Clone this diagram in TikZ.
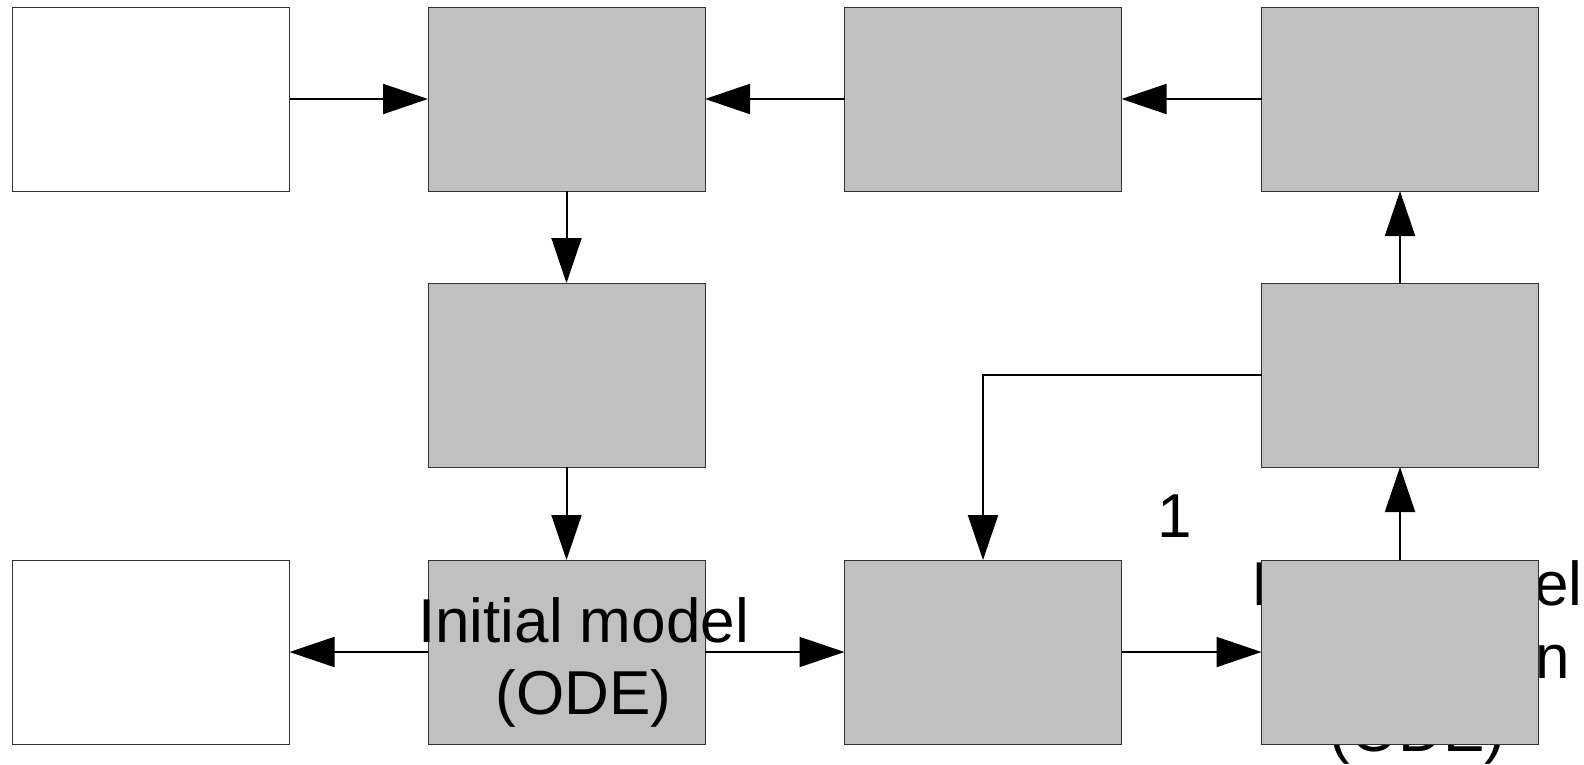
\documentclass[tikz,border=0pt]{standalone}
\usepackage{fontspec}
\setmainfont{Liberation Sans}
\usetikzlibrary{arrows.meta}
\definecolor{boxgray}{RGB}{192,192,192}
\tikzset{
  blk/.style={draw=black!80, line width=1pt, minimum width=277pt, minimum height=184pt, inner sep=0pt, outer sep=0pt},
  gblk/.style={blk, fill=boxgray},
  wblk/.style={blk, fill=white},
  flow/.style={line width=2pt, -{Triangle[length=45pt,width=30pt]}},
  lbl/.style={font=\fontsize{62}{72}\selectfont, inner sep=0pt, outer sep=0pt, anchor=base}
}
\begin{document}
\begin{tikzpicture}[x=1pt,y=-1pt]
\useasboundingbox (0,0) rectangle (1584,764);
% text hidden behind box J
\node[lbl] (tJa) at (1417,605) {Initial model};
\node[lbl, anchor=base west] (tJb) at (1535,678) {n};
\node[lbl] (tJc) at (1417.5,751) {(ODE)};
% boxes
\node[wblk] (A) at (151,99) {};
\node[gblk] (B) at (566.5,99) {};
\node[gblk] (C) at (983,99) {};
\node[gblk] (D) at (1400,99) {};
\node[gblk] (E) at (566.5,375) {};
\node[gblk] (F) at (1400,375) {};
\node[wblk] (G) at (151,652) {};
\node[gblk] (H) at (566.5,652) {};
\node[gblk] (I) at (983,652) {};
\node[gblk] (J) at (1400,652) {};
% connectors
\draw[flow] (A.east) -- (B.west);
\draw[flow] (C.west) -- (B.east);
\draw[flow] (D.west) -- (C.east);
\draw[flow] (B.south) -- (E.north);
\draw[flow] (E.south) -- (H.north);
\draw[flow] (H.west) -- (G.east);
\draw[flow] (H.east) -- (I.west);
\draw[flow] (I.east) -- (J.west);
\draw[flow] (J.north) -- (F.south);
\draw[flow] (F.north) -- (D.south);
\draw[flow] (F.west) -| (I.north);
% labels
\node[lbl] (tHa) at (583.5,642) {Initial model};
\node[lbl] (tHb) at (583.5,714) {(ODE)};
\node[lbl] (one) at (1175,537) {1};
\end{tikzpicture}
\end{document}
